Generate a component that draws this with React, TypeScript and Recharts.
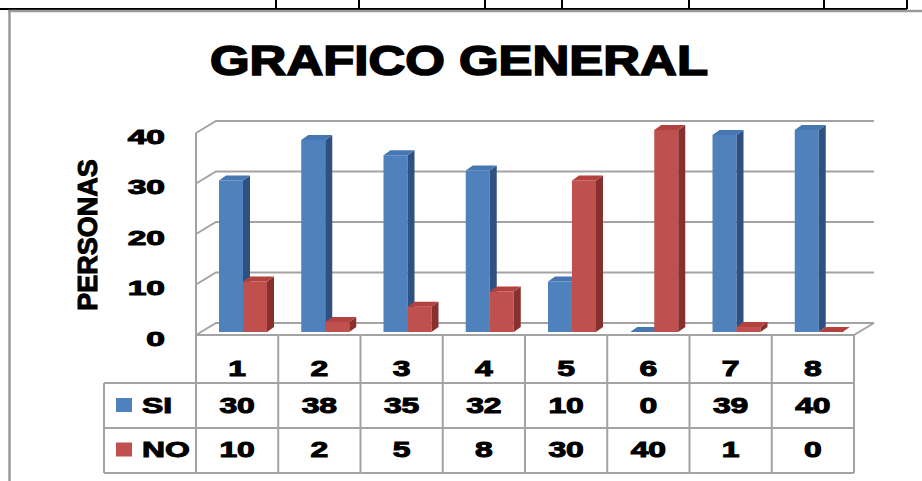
import React from 'react';
import { BarChart, Bar, XAxis, YAxis, CartesianGrid } from 'recharts';

// chart values
const CATEGORIES = ['1', '2', '3', '4', '5', '6', '7', '8'];
const SI_VALUES = [30, 38, 35, 32, 10, 0, 39, 40];
const NO_VALUES = [10, 2, 5, 8, 30, 40, 1, 0];
const SERIES_NAMES = ['SI', 'NO'];
const Y_TICKS = [0, 10, 20, 30, 40];

const data = CATEGORIES.map((cat, i) => ({
  cat,
  SI: SI_VALUES[i],
  NO: NO_VALUES[i],
}));

const W = 922;
const H = 481;
const PLOT_LEFT = 196;
const PLOT_RIGHT = 854;
const PLOT_TOP = 133;
const PLOT_BOTTOM = 335;
const BAND = (PLOT_RIGHT - PLOT_LEFT) / CATEGORIES.length;

// 3d wall depth
const WALL_DX = 20;
const WALL_DY = 12;

const FONT = '"Liberation Sans", Arial, sans-serif';
const LINE = '#a3a3a3';

const COLORS: Record<string, { front: string; side: string; top: string }> = {
  SI: { front: '#4f81bd', side: '#2f5181', top: '#4677b3' },
  NO: { front: '#c0504d', side: '#87302e', top: '#b3413e' },
};

function boldText(
  label: string | number,
  tx: number,
  ty: number,
  size: number,
  sx: number,
  anchor: 'start' | 'middle' | 'end',
) {
  return (
    <g transform={`translate(${tx},${ty}) scale(${sx},1)`}>
      <text
        x={0}
        y={0}
        dy="0.36em"
        textAnchor={anchor}
        fontFamily={FONT}
        fontWeight="bold"
        fontSize={size}
        fill="#000"
        stroke="#000"
        strokeWidth={1}
      >
        {label}
      </text>
    </g>
  );
}

const bar3d = (name: string) => (props: any) => {
  const { x, y, width, height } = props;
  const c = COLORS[name];
  const X = x + 6;
  const Y = y - 3;
  const dx = 7;
  const dy = 5;
  const h = Math.max(0, height || 0);
  return (
    <g>
      {h > 0 && <path d={`M${X},${Y}h${width}v${h}h${-width}Z`} fill={c.front} />}
      {h > 0 && (
        <path d={`M${X + width},${Y}l${dx},${-dy}v${h}l${-dx},${dy}Z`} fill={c.side} />
      )}
      <path d={`M${X},${Y}l${dx},${-dy}h${width}l${-dx},${dy}Z`} fill={c.top} />
    </g>
  );
};

function gridLine(p: any) {
  const { x1, y1, x2, y, height, index } = p;
  const bottom = y + height;
  const isBottom = Math.abs(y1 - bottom) < 1;
  const isTop = Math.abs(y1 - y) < 1;
  return (
    <g key={`grid-${index}`}>
      <polyline
        points={`${x1},${y1} ${x1 + WALL_DX},${y1 - WALL_DY} ${x2 + WALL_DX},${y1 - WALL_DY}`}
        fill="none"
        stroke={LINE}
        strokeWidth={2}
      />
      {isBottom && (
        <line
          x1={x2}
          y1={y1}
          x2={x2 + WALL_DX}
          y2={y1 - WALL_DY}
          stroke={LINE}
          strokeWidth={2}
        />
      )}
      {isTop && <line x1={x1} y1={y1} x2={x1} y2={bottom} stroke={LINE} strokeWidth={2} />}
    </g>
  );
}

function YTick(props: any) {
  const { x, y, payload } = props;
  return boldText(payload.value, x, y + 3, 21, 1.6, 'end');
}

function TableTick(props: any) {
  const { x, y, payload } = props;
  const i = payload.index ?? props.index ?? 0;
  const left = x - BAND / 2;
  const right = x + BAND / 2;
  const r1 = y + 48;
  const r2 = y + 93;
  const r3 = y + 138;
  const legLeft = 104;
  return (
    <g>
      <line x1={left} y1={y} x2={right} y2={y} stroke={LINE} strokeWidth={2} />
      <line x1={left} y1={r1} x2={right} y2={r1} stroke={LINE} strokeWidth={2} />
      <line x1={left} y1={r2} x2={right} y2={r2} stroke={LINE} strokeWidth={2} />
      <line x1={left} y1={r3} x2={right} y2={r3} stroke={LINE} strokeWidth={2} />
      <line x1={right} y1={y} x2={right} y2={r3} stroke={LINE} strokeWidth={2} />
      {i === 0 && (
        <g>
          <line x1={left} y1={y} x2={left} y2={r3} stroke={LINE} strokeWidth={2} />
          <line x1={legLeft} y1={r1} x2={left} y2={r1} stroke={LINE} strokeWidth={2} />
          <line x1={legLeft} y1={r2} x2={left} y2={r2} stroke={LINE} strokeWidth={2} />
          <line x1={legLeft} y1={r3} x2={left} y2={r3} stroke={LINE} strokeWidth={2} />
          <line x1={legLeft} y1={r1} x2={legLeft} y2={r3} stroke={LINE} strokeWidth={2} />
          {SERIES_NAMES.map((name, k) => {
            const cy = y + 70 + k * 44.5;
            return (
              <g key={name}>
                <rect x={116} y={cy - 7} width={16} height={14} fill={COLORS[name].front} />
                {boldText(name, 142, cy, 22, 1.45, 'start')}
              </g>
            );
          })}
        </g>
      )}
      {boldText(payload.value, x, y + 33, 22, 1.45, 'middle')}
      {boldText(SI_VALUES[i], x, y + 70, 22, 1.45, 'middle')}
      {boldText(NO_VALUES[i], x, y + 114.5, 22, 1.45, 'middle')}
    </g>
  );
}

const SHEET_COLS = [276, 359, 485, 562, 689, 824, 907];

export default function App() {
  return (
    <div style={{ position: 'absolute', left: 0, top: 0, width: W, height: H, background: '#fff' }}>
      <svg width={W} height={H} style={{ position: 'absolute', left: 0, top: 0 }}>
        <line x1={0} y1={9} x2={907} y2={9} stroke="#000" strokeWidth={2} />
        {SHEET_COLS.map((cx) => (
          <line key={cx} x1={cx} y1={0} x2={cx} y2={9} stroke="#000" strokeWidth={2} />
        ))}
        <line x1={8} y1={11} x2={W} y2={11} stroke="#9a9a9a" strokeWidth={2.5} />
        <line x1={9.5} y1={11} x2={9.5} y2={H} stroke="#9a9a9a" strokeWidth={2.5} />
        <text
          x={459}
          y={75}
          textAnchor="middle"
          fontFamily={FONT}
          fontWeight="bold"
          fontSize={42}
          textLength={498}
          lengthAdjust="spacingAndGlyphs"
          fill="#000"
          stroke="#000"
          strokeWidth={1.6}
        >
          GRAFICO GENERAL
        </text>
        <text
          transform="translate(97,235) rotate(-90)"
          textAnchor="middle"
          fontFamily={FONT}
          fontWeight="bold"
          fontSize={27}
          fill="#000"
          stroke="#000"
          strokeWidth={1}
        >
          PERSONAS
        </text>
      </svg>
      <div style={{ position: 'absolute', left: 0, top: 0 }}>
        <BarChart
          width={W}
          height={H}
          data={data}
          barGap={0}
          margin={{ top: PLOT_TOP, right: W - PLOT_RIGHT, bottom: H - PLOT_BOTTOM - 140, left: 0 }}
        >
          <CartesianGrid vertical={false} horizontal={gridLine} />
          <XAxis
            dataKey="cat"
            height={140}
            axisLine={false}
            tickLine={false}
            tickSize={0}
            tickMargin={0}
            interval={0}
            tick={<TableTick />}
          />
          <YAxis
            width={PLOT_LEFT}
            domain={[0, 40]}
            ticks={Y_TICKS}
            axisLine={false}
            tickLine={false}
            tickSize={0}
            tickMargin={31}
            tick={<YTick />}
          />
          <Bar dataKey="SI" name="SI" fill={COLORS.SI.front} barSize={24} shape={bar3d('SI')} isAnimationActive={false} />
          <Bar dataKey="NO" name="NO" fill={COLORS.NO.front} barSize={24} shape={bar3d('NO')} isAnimationActive={false} />
        </BarChart>
      </div>
    </div>
  );
}
